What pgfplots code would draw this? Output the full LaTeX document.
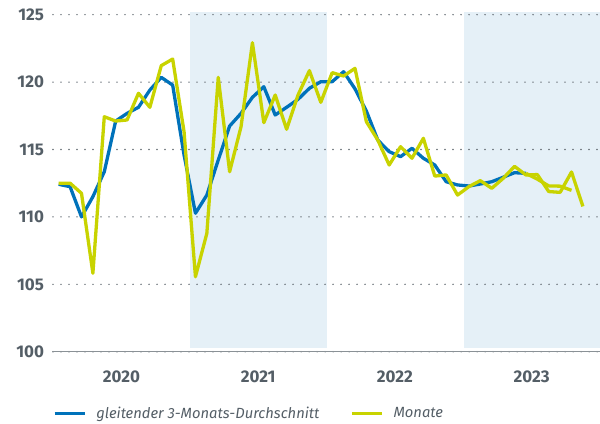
\documentclass[border=0pt]{standalone}
\usepackage{fontspec}
\setmainfont{Fira Sans}
\usepackage{pgfplots}
\pgfplotsset{compat=1.18}
\definecolor{myblue}{RGB}{0,114,186}
\definecolor{myyellow}{RGB}{200,211,0}
\definecolor{shade}{RGB}{229,240,247}
\definecolor{txt}{RGB}{84,94,102}
\definecolor{gridc}{RGB}{100,108,115}
\definecolor{axisc}{RGB}{138,145,150}
\begin{document}
\begin{tikzpicture}
\begin{axis}[
  set layers,
  scale only axis, width=547bp, height=339.7bp,
  xmin=-0.5, xmax=47.5, ymin=100, ymax=125.2,
  axis line style={draw=none},
  xtick={5.5,17.5,29.5,41.5}, xticklabels={2020,2021,2022,2023},
  ytick={100,105,...,125},
  major tick length=0pt,
  ymajorgrids,
  grid style={gridc, line width=1.6bp, line cap=round, dash pattern=on 0bp off 8bp},
  tick label style={font=\fontsize{17}{20}\selectfont\bfseries, text=txt},
  /pgf/number format/assume math mode=true,
  yticklabel style={xshift=-5.5bp},
  xticklabel style={yshift=-16bp},
  legend style={at={(0,-0.181)}, anchor=west, draw=none, fill=none, inner sep=0pt,
    font=\fontsize{14.8}{16}\selectfont\itshape, text=txt, legend columns=2,
    /tikz/every even column/.append style={column sep=29bp}},
  legend image code/.code={\draw[#1, line width=3bp] (0bp,0bp) -- (30bp,0bp); \path (38bp,0bp);},
]
\addplot[fill=shade, draw=none, forget plot, on layer=axis background]
  coordinates {(11.5,100.3) (23.5,100.3) (23.5,125.2) (11.5,125.2)} -- cycle;
\addplot[fill=shade, draw=none, forget plot, on layer=axis background]
  coordinates {(35.6,100.3) (47.5,100.3) (47.5,125.2) (35.6,125.2)} -- cycle;
\addplot[myblue, line width=3.3bp, line join=round] coordinates {
(0,112.42) (1,112.24) (2,110.0) (3,111.5) (4,113.35) (5,117.11) (6,117.68) (7,118.13)
(8,119.41) (9,120.35) (10,119.78) (11,114.6) (12,110.27) (13,111.62) (14,114.22)
(15,116.74) (16,117.68) (17,118.87) (18,119.66) (19,117.56) (20,118.13) (21,118.72)
(22,119.54) (23,120.03) (24,120.03) (25,120.77) (26,119.5) (27,117.85) (28,115.7)
(29,114.84) (30,114.47) (31,115.09) (32,114.35) (33,113.85) (34,112.61) (35,112.37)
(36,112.29) (37,112.44) (38,112.61) (39,112.94) (40,113.28) (41,113.23)
};
\addlegendentry{gleitender 3-Monats-Durchschnitt}
\addplot[myyellow, line width=3.3bp, line join=round, forget plot] coordinates {
(41,113.23) (42,112.8) (43,112.3) (44,112.28) (45,111.97)
};
\addplot[myyellow, line width=3.3bp, line join=round] coordinates {
(0,112.49) (1,112.5) (2,111.75) (3,105.82) (4,117.43) (5,117.11) (6,117.19) (7,119.17)
(8,118.13) (9,121.22) (10,121.71) (11,116.32) (12,105.56) (13,108.78) (14,120.35)
(15,113.35) (16,116.69) (17,122.92) (18,116.99) (19,119.04) (20,116.5) (21,119.04)
(22,120.85) (23,118.5) (24,120.7) (25,120.45) (26,121.02) (27,117.06) (28,115.7)
(29,113.85) (30,115.21) (31,114.35) (32,115.83) (33,113.03) (34,113.11) (35,111.62)
(36,112.25) (37,112.69) (38,112.12) (39,112.86) (40,113.75) (41,113.11) (42,113.14)
(43,111.88) (44,111.82) (45,113.33) (46,110.78)
};
\addlegendentry{Monate}
\draw[axisc, line width=2bp] (axis cs:-0.5,100) -- (axis cs:47.5,100);
\end{axis}
\pgfresetboundingbox
\path[use as bounding box] ([xshift=-53bp,yshift=-71.3bp]current axis.south west) rectangle ([yshift=12bp]current axis.north east);
\end{tikzpicture}
\end{document}
